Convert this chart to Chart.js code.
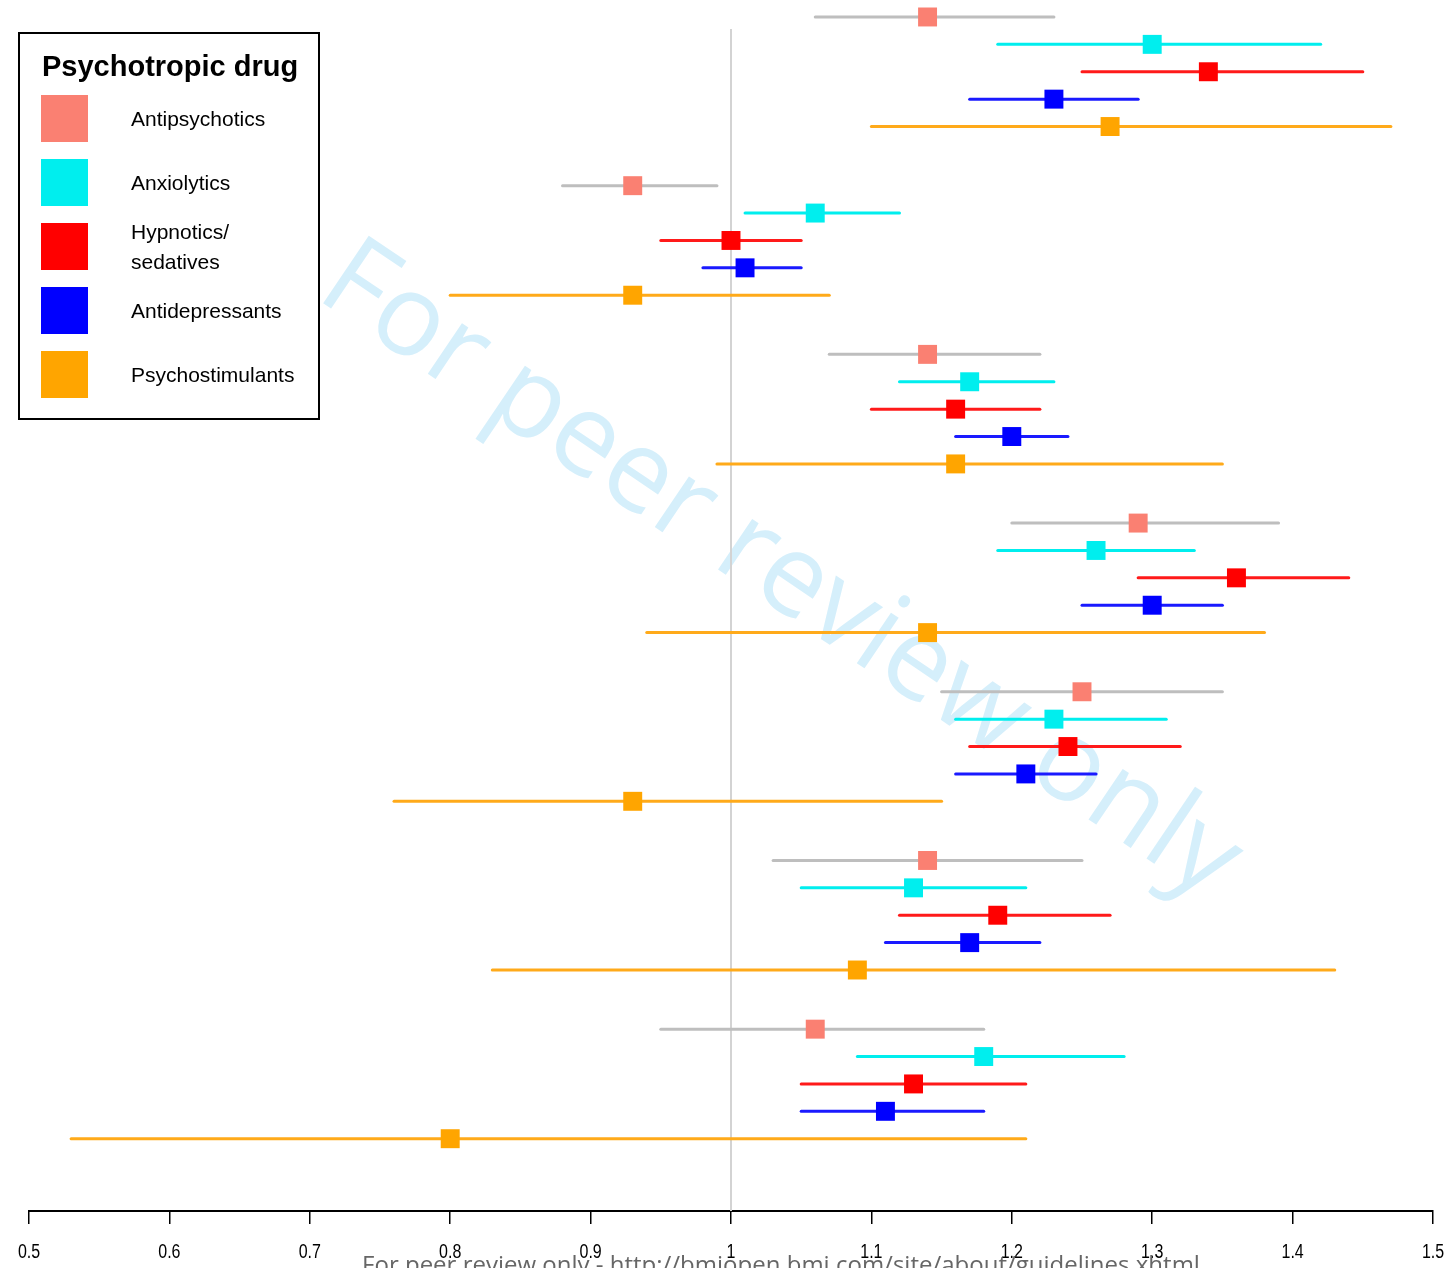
<!DOCTYPE html>
<html>
<head>
<meta charset="utf-8">
<title>Psychotropic drug odds ratios</title>
<script src="https://cdn.jsdelivr.net/npm/chart.js@4/dist/chart.umd.min.js"></script>
<style>
  html, body { margin: 0; padding: 0; background: #ffffff; }
  #wrap { position: relative; width: 1447px; height: 1268px; overflow: hidden; }
  #chart { position: absolute; left: 0; top: 0; }
  #legend {
    position: absolute; left: 18px; top: 32px; width: 298px; height: 384px;
    border: 2px solid #000; background: transparent;
    font-family: "Liberation Sans", Arial, sans-serif; color: #000;
  }
  #legend .title { position: absolute; left: 22px; top: 16px; font-size: 29px; font-weight: bold; white-space: nowrap; }
  #legend .sw { position: absolute; left: 21px; width: 47px; height: 47px; }
  #legend .lab { position: absolute; left: 111px; font-size: 21px; line-height: 30px; white-space: nowrap; }
</style>
</head>
<body>
<div id="wrap">
  <canvas id="chart" width="1447" height="1268"></canvas>
  <div id="legend"></div>
</div>
<script>
// Drug classes, in row order within each group
const drugNames = ['Antipsychotics', 'Anxiolytics', 'Hypnotics/\nsedatives', 'Antidepressants', 'Psychostimulants'];
const markerColors = ['#FA8072', '#00EEEE', '#FF0000', '#0000FF', '#FFA500'];
const lineColors = ['#BEBEBE', '#00EEEE', '#FF1A1A', '#1A1AFF', '#FFAA1A'];

// Odds ratios and 95% CI per group (7 groups)
const antipsychoticsOR = [1.14, 0.93, 1.14, 1.29, 1.25, 1.14, 1.06];
const antipsychoticsLo = [1.06, 0.88, 1.07, 1.20, 1.15, 1.03, 0.95];
const antipsychoticsHi = [1.23, 0.99, 1.22, 1.39, 1.35, 1.25, 1.18];

const anxiolyticsOR = [1.30, 1.06, 1.17, 1.26, 1.23, 1.13, 1.18];
const anxiolyticsLo = [1.19, 1.01, 1.12, 1.19, 1.16, 1.05, 1.09];
const anxiolyticsHi = [1.42, 1.12, 1.23, 1.33, 1.31, 1.21, 1.28];

const hypnoticsOR = [1.34, 1.00, 1.16, 1.36, 1.24, 1.19, 1.13];
const hypnoticsLo = [1.25, 0.95, 1.10, 1.29, 1.17, 1.12, 1.05];
const hypnoticsHi = [1.45, 1.05, 1.22, 1.44, 1.32, 1.27, 1.21];

const antidepressantsOR = [1.23, 1.01, 1.20, 1.30, 1.21, 1.17, 1.11];
const antidepressantsLo = [1.17, 0.98, 1.16, 1.25, 1.16, 1.11, 1.05];
const antidepressantsHi = [1.29, 1.05, 1.24, 1.35, 1.26, 1.22, 1.18];

const psychostimulantsOR = [1.27, 0.93, 1.16, 1.14, 0.93, 1.09, 0.80];
const psychostimulantsLo = [1.10, 0.80, 0.99, 0.94, 0.76, 0.83, 0.53];
const psychostimulantsHi = [1.47, 1.07, 1.35, 1.38, 1.15, 1.43, 1.21];

// X axis tick labels
const xTickLabels = ['0.5', '0.6', '0.7', '0.8', '0.9', '1', '1.1', '1.2', '1.3', '1.4', '1.5'];

const estimates = [antipsychoticsOR, anxiolyticsOR, hypnoticsOR, antidepressantsOR, psychostimulantsOR];
const lowers = [antipsychoticsLo, anxiolyticsLo, hypnoticsLo, antidepressantsLo, psychostimulantsLo];
const uppers = [antipsychoticsHi, anxiolyticsHi, hypnoticsHi, antidepressantsHi, psychostimulantsHi];

// Vertical layout: one unit per row, groups separated by a gap
const GROUP_STEP = 6.16;
const rowPos = (g, r) => g * GROUP_STEP + r;

const datasets = [];
// Point estimates (drawn on top)
drugNames.forEach((name, d) => {
  datasets.push({
    type: 'scatter',
    label: name,
    data: estimates[d].map((v, g) => ({ x: v, y: rowPos(g, d) })),
    pointStyle: 'rect',
    pointRadius: 13.4,
    pointHoverRadius: 13.4,
    backgroundColor: markerColors[d],
    borderWidth: 0,
    order: 0
  });
});
// Confidence intervals
drugNames.forEach((name, d) => {
  estimates[d].forEach((v, g) => {
    datasets.push({
      type: 'line',
      label: name + ' CI ' + (g + 1),
      data: [{ x: lowers[d][g], y: rowPos(g, d) }, { x: uppers[d][g], y: rowPos(g, d) }],
      borderColor: lineColors[d],
      borderWidth: 3,
      borderCapStyle: 'round',
      pointRadius: 0,
      fill: false,
      order: 1
    });
  });
});
// Reference line at OR = 1
datasets.push({
  type: 'line',
  label: 'null',
  data: [{ x: 1, y: 0.44 }, { x: 1, y: 43.6 }],
  borderColor: '#D3D3D3',
  borderWidth: 2,
  pointRadius: 0,
  fill: false,
  order: 2
});

// Watermark behind the data; narrow tick labels and footer note on top
const decorations = {
  id: 'decorations',
  beforeDatasetsDraw(chart) {
    const ctx = chart.ctx;
    ctx.save();
    ctx.translate(314, 297);
    ctx.rotate(34 * Math.PI / 180);
    ctx.font = '114px "Open Sans", sans-serif';
    ctx.fillStyle = '#D5EFFB';
    ctx.textAlign = 'left';
    ctx.textBaseline = 'alphabetic';
    ctx.fillText('For peer review only', 0, 0);
    ctx.restore();
  },
  afterDraw(chart) {
    const ctx = chart.ctx;
    const xs = chart.scales.x;
    ctx.save();
    ctx.font = '20px "Liberation Sans", Arial, sans-serif';
    ctx.fillStyle = '#000';
    ctx.textAlign = 'center';
    ctx.textBaseline = 'middle';
    xs.ticks.forEach((t, i) => {
      const px = xs.getPixelForValue(t.value);
      ctx.save();
      ctx.translate(px, 1252);
      ctx.scale(0.8, 1);
      ctx.fillText(xTickLabels[i], 0, 0);
      ctx.restore();
    });
    ctx.font = '24px "Open Sans", sans-serif';
    ctx.fillStyle = '#666666';
    ctx.textAlign = 'center';
    ctx.textBaseline = 'alphabetic';
    ctx.fillText('For peer review only - http://bmjopen.bmj.com/site/about/guidelines.xhtml', 781, 1273);
    ctx.restore();
  }
};

new Chart(document.getElementById('chart'), {
  data: { datasets },
  options: {
    responsive: false,
    animation: false,
    events: [],
    layout: { autoPadding: false, padding: { left: 29, right: 14, top: 0, bottom: 0 } },
    plugins: { legend: { display: false }, tooltip: { enabled: false } },
    scales: {
      x: {
        type: 'linear',
        position: 'bottom',
        min: 0.5,
        max: 1.5,
        afterFit(scale) {
          scale.paddingLeft = 0;
          scale.paddingRight = 0;
          scale.height = 57;
        },
        ticks: {
          stepSize: 0.1,
          padding: 17,
          color: 'rgba(0,0,0,0)',
          font: { family: '"Liberation Sans", Arial, sans-serif', size: 18 },
          maxRotation: 0,
          autoSkip: false,
          callback: (v, i) => xTickLabels[i]
        },
        grid: { drawOnChartArea: false, drawTicks: true, tickLength: 13, color: '#000', lineWidth: 1.5 },
        border: { display: true, color: '#000', width: 2 }
      },
      y: {
        type: 'linear',
        reverse: true,
        min: -0.62,
        max: 43.6,
        display: false
      }
    }
  },
  plugins: [decorations]
});

// Legend box
const legend = document.getElementById('legend');
const title = document.createElement('div');
title.className = 'title';
title.textContent = 'Psychotropic drug';
legend.appendChild(title);
drugNames.forEach((name, d) => {
  const sw = document.createElement('div');
  sw.className = 'sw';
  sw.style.top = (61 + d * 64) + 'px';
  sw.style.background = markerColors[d];
  legend.appendChild(sw);
  const lab = document.createElement('div');
  lab.className = 'lab';
  const lines = name.split('\n');
  lab.style.top = (61 + d * 64 + 23.5 - lines.length * 15) + 'px';
  lab.innerHTML = lines.map(s => s.replace(/&/g, '&amp;')).join('<br>');
  legend.appendChild(lab);
});
</script>
</body>
</html>
